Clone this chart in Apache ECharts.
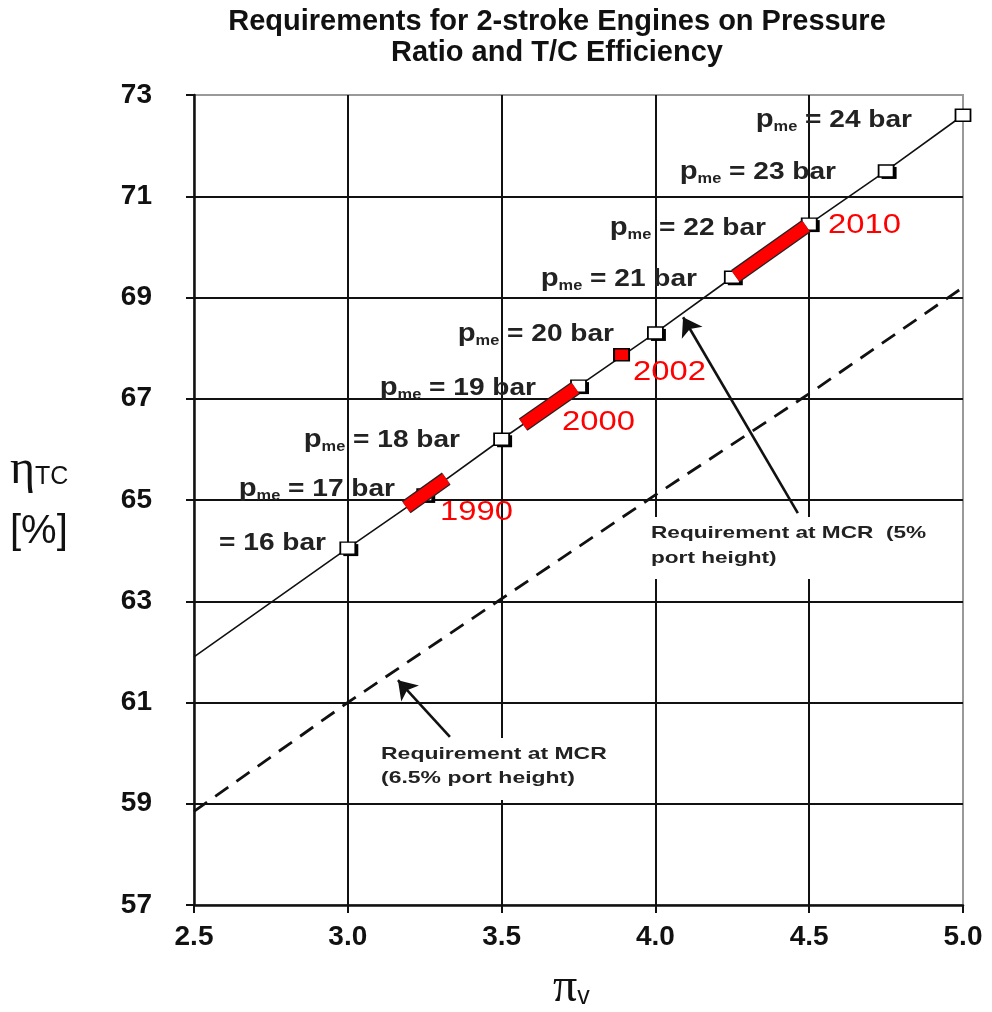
<!DOCTYPE html>
<html>
<head>
<meta charset="utf-8">
<script src="https://cdn.jsdelivr.net/npm/echarts@6/dist/echarts.min.js"></script>
<style>
  html, body { margin: 0; padding: 0; background: #fff; }
  #chart { width: 992px; height: 1012px; }
</style>
</head>
<body>
<div id="chart"></div>
<script>
// data
var pmeBar = [16, 17, 18, 19, 20, 21, 22, 23, 24];
var pmeX = [3.0, 3.25, 3.5, 3.75, 4.0, 4.25, 4.5, 4.75, 5.0];
var pmeY = [64.05, 65.1, 66.2, 67.25, 68.3, 69.4, 70.45, 71.5, 72.6];
// the solid line starts at the left axis
var solidStart = [2.5, 61.9];

// dashed line: requirement at MCR (6.5% port height)
var dashX = [2.5, 3.0, 3.5, 4.0, 4.5, 5.0];
var dashY = [58.85, 61.0, 63.05, 65.1, 67.1, 69.2];

// red periods along the line
var periodName = ['1990', '2000', '2010'];
var periodX0 = [3.19, 3.57, 4.26];
var periodY0 = [64.86, 66.49, 69.42];
var periodX1 = [3.32, 3.74, 4.49];
var periodY1 = [65.42, 67.21, 70.41];
var point2002 = [3.89, 67.87];

// arrows (tail, head)
var arrow5 = [[4.463, 64.74], [4.09, 68.61]];
var arrow65 = [[3.332, 60.32], [3.163, 61.44]];

var chart = echarts.init(document.getElementById('chart'));

var font = 'Liberation Sans, Arial, sans-serif';
var sans = 'Liberation Sans, Arial, sans-serif';
var serif = 'Liberation Serif, DejaVu Serif, serif';

var solidData = [solidStart];
var markerData = [];
for (var i = 0; i < pmeX.length; i++) {
    solidData.push([pmeX[i], pmeY[i]]);
    markerData.push([pmeX[i], pmeY[i]]);
}
var dashData = dashX.map(function (x, i) { return [x, dashY[i]]; });

var series = [
    {
        name: 'line5',
        type: 'line',
        data: solidData,
        symbol: 'none',
        lineStyle: { color: '#111', width: 1.6 },
        z: 3
    },
    {
        name: 'line65',
        type: 'line',
        data: dashData,
        symbol: 'none',
        lineStyle: { color: '#111', width: 2.8, type: [16, 10] },
        z: 3
    },
    {
        // dark offset behind the markers (the top one has none)
        name: 'pmeShadow',
        type: 'scatter',
        data: markerData.slice(0, -1),
        symbol: 'rect',
        symbolSize: [15, 12],
        symbolOffset: [3, 2],
        itemStyle: { color: '#000', opacity: 1 },
        z: 4
    },
    {
        name: 'pme',
        type: 'scatter',
        data: markerData,
        symbol: 'rect',
        symbolSize: [15, 12],
        itemStyle: { color: '#fff', borderColor: '#000', borderWidth: 1.6, opacity: 1 },
        z: 4
    }
];
for (var k = 0; k < periodName.length; k++) {
    var seg = [[periodX0[k], periodY0[k]], [periodX1[k], periodY1[k]]];
    series.push({
        name: periodName[k] + ' edge',
        type: 'line',
        data: seg,
        symbol: 'none',
        lineStyle: { color: '#222', width: 15, cap: 'butt' },
        z: 5
    });
    series.push({
        name: periodName[k],
        type: 'line',
        data: seg,
        symbol: 'none',
        lineStyle: { color: '#ff0000', width: 12.5, cap: 'butt' },
        z: 5
    });
}
series.push({
    name: '2002',
    type: 'scatter',
    data: [point2002],
    symbol: 'rect',
    symbolSize: [15, 12],
    itemStyle: { color: '#ff0000', borderColor: '#000', borderWidth: 1.8, opacity: 1 },
    z: 5
});
series.push({
    name: 'arrows',
    type: 'lines',
    coordinateSystem: 'cartesian2d',
    symbol: ['none', 'arrow'],
    symbolSize: 18,
    lineStyle: { color: '#111', width: 2.6, opacity: 1 },
    data: [{ coords: arrow5 }, { coords: arrow65 }],
    z: 6
});

// text annotations
var labels = [];
var pmePos = [[326, 543], [395, 489], [460, 440], [536, 388], [614, 334], [697, 279], [766, 228], [836, 172], [912, 120]];
for (var j = 0; j < pmeBar.length; j++) {
    var txt = j === 0 ? '{t|= ' + pmeBar[j] + ' bar}'
                      : '{p|p}{s|me}{t| = ' + pmeBar[j] + ' bar}';
    labels.push({
        type: 'text', x: pmePos[j][0], y: pmePos[j][1], scaleX: 1.17, z: 10,
        style: {
            text: txt, align: 'right', verticalAlign: 'middle',
            rich: {
                p: { fontFamily: sans, fontWeight: 'bold', fontSize: 25, fill: '#222', lineHeight: 28 },
                s: { fontFamily: sans, fontWeight: 'bold', fontSize: 14, fill: '#222', verticalAlign: 'bottom', lineHeight: 24 },
                t: { fontFamily: sans, fontWeight: 'bold', fontSize: 24, fill: '#222', lineHeight: 28 }
            }
        }
    });
}
var yearPos = [[440, 512], [562, 422], [828, 225]];
for (var m = 0; m < periodName.length; m++) {
    labels.push({
        type: 'text', x: yearPos[m][0], y: yearPos[m][1], scaleX: 1.17, z: 10,
        style: { text: periodName[m], fontFamily: sans, fontSize: 28, fill: '#ff0000',
                 align: 'left', verticalAlign: 'middle' }
    });
}
labels.push({
    type: 'text', x: 633, y: 372, scaleX: 1.17, z: 10,
    style: { text: '2002', fontFamily: sans, fontSize: 28, fill: '#ff0000', align: 'left', verticalAlign: 'middle' }
});
labels.push({
    type: 'text', x: 647, y: 517, scaleX: 1.33, z: 10,
    style: { text: 'Requirement at MCR  (5%\nport height)', fontFamily: sans, fontWeight: 'bold',
             fontSize: 17, lineHeight: 25, fill: '#222', backgroundColor: '#fff', padding: [4, 3, 8, 3] }
});
labels.push({
    type: 'text', x: 377, y: 738, scaleX: 1.35, z: 10,
    style: { text: 'Requirement at MCR\n(6.5% port height)', fontFamily: sans, fontWeight: 'bold',
             fontSize: 17, lineHeight: 24, fill: '#222', backgroundColor: '#fff', padding: [4, 3, 10, 3] }
});
// axis names
labels.push({
    type: 'text', x: 10, y: 470, z: 10,
    style: {
        text: '{g|η}{s|TC}', verticalAlign: 'middle',
        rich: {
            g: { fontFamily: serif, fontSize: 48, fill: '#111' },
            s: { fontFamily: sans, fontSize: 25, fill: '#111', padding: [14, 0, 0, 0] }
        }
    }
});
labels.push({
    type: 'text', x: 10, y: 532, z: 10,
    style: { text: '[%]', fontFamily: sans, fontSize: 40, fill: '#111', verticalAlign: 'middle' }
});
labels.push({
    type: 'text', x: 553, y: 988, z: 10,
    style: {
        text: '{g|π}{s|v}', verticalAlign: 'middle',
        rich: {
            g: { fontFamily: serif, fontSize: 48, fill: '#111' },
            s: { fontFamily: sans, fontSize: 25, fill: '#111', padding: [18, 0, 0, 0] }
        }
    }
});

var option = {
    backgroundColor: '#fff',
    animation: false,
    title: {
        text: 'Requirements for 2-stroke Engines on Pressure\nRatio and T/C Efficiency',
        left: 552,
        top: 1,
        textAlign: 'center',
        textStyle: { fontFamily: font, fontWeight: 'bold', fontSize: 29, lineHeight: 31, color: '#111' }
    },
    grid: {
        left: 194, top: 95, width: 769, height: 810,
        show: true, borderColor: '#999', borderWidth: 2
    },
    xAxis: {
        type: 'value',
        min: 2.5, max: 5.0, interval: 0.5,
        axisLine: { lineStyle: { color: '#111', width: 2.5 } },
        axisTick: { show: true, length: 8, lineStyle: { color: '#111', width: 2 } },
        axisLabel: {
            margin: 18, color: '#111', fontFamily: font, fontWeight: 'bold', fontSize: 28,
            formatter: function (v) { return v.toFixed(1); }
        },
        splitLine: { show: true, showMinLine: false, showMaxLine: false, lineStyle: { color: '#111', width: 2 } }
    },
    yAxis: {
        type: 'value',
        min: 57, max: 73, interval: 2,
        axisLine: { show: true, lineStyle: { color: '#111', width: 2.5 } },
        axisTick: { show: true, length: 8, lineStyle: { color: '#111', width: 2 } },
        axisLabel: { margin: 42, color: '#111', fontFamily: font, fontWeight: 'bold', fontSize: 28 },
        splitLine: { show: true, showMinLine: false, showMaxLine: false, lineStyle: { color: '#111', width: 2 } }
    },
    graphic: labels,
    series: series
};
chart.setOption(option);
</script>
</body>
</html>
